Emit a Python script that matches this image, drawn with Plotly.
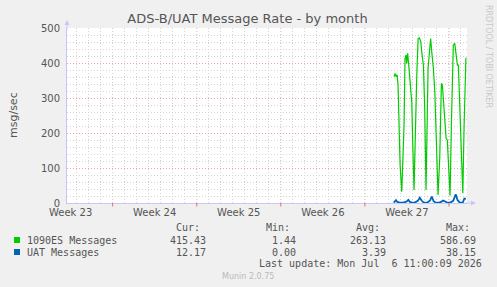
import plotly.graph_objects as go

TITLE = "ADS-B/UAT Message Rate - by month"
Y_TITLE = "msg/sec"
WEEK_LABELS = ["Week 23", "Week 24", "Week 25", "Week 26", "Week 27"]
WEEK_LABEL_POS = [0.3, 7.3, 14.3, 21.3, 28.3]
WEEK_BOUNDS = [3.8, 10.8, 17.8, 24.8, 31.8]
X_RANGE = [0, 33.3]
Y_RANGE = [0, 500]
Y_TICKS = [0, 100, 200, 300, 400, 500]

ES_T = [27.23, 27.31, 27.39, 27.48, 27.56, 27.64, 27.73, 27.87, 28.06, 28.14, 28.23, 28.28,
        28.36, 28.45, 28.56, 28.70, 28.78, 28.89, 29.12, 29.23, 29.33, 29.45, 29.56, 29.67,
        29.78, 29.89, 30.06, 30.27, 30.39, 30.50, 30.62, 30.75, 30.89, 31.03, 31.17, 31.25,
        31.37, 31.45, 31.56, 31.66, 31.78, 31.89, 32.00, 32.16, 32.28, 32.39, 32.50, 32.58,
        32.70, 32.83, 32.95, 33.06, 33.17, 33.21]
ES_V = [361, 370, 361, 366, 337, 223, 109, 32, 223, 413, 423, 399,
        428, 394, 356, 289, 175, 37, 366, 470, 472, 461, 423, 394,
        270, 37, 385, 470, 423, 385, 318, 147, 23, 128, 342, 337,
        280, 213, 185, 180, 80, 21, 223, 451, 456, 423, 394, 394,
        270, 109, 28, 223, 413, 415]

UAT_T = [27.20, 27.30, 27.39, 27.50, 27.70, 28.00, 28.25, 28.42, 28.55, 28.70, 28.95,
         29.20, 29.37, 29.52, 29.70, 30.00, 30.22, 30.37, 30.52, 30.70, 31.00, 31.18,
         31.31, 31.45, 31.62, 31.90, 32.15, 32.36, 32.52, 32.70, 32.95, 33.08, 33.21]
UAT_V = [1, 4, 8, 3, 1, 1, 4, 9, 3, 1, 1,
         6, 15, 7, 1, 1, 7, 18, 5, 1, 1, 4,
         7, 5, 2, 1, 6, 25, 8, 1, 1, 13, 12]

SERIES_NAMES = ["1090ES Messages", "UAT Messages"]
SERIES_COLORS = ["#00CC00", "#0066B3"]
CUR = ["415.43", "12.17"]
MIN = ["1.44", "0.00"]
AVG = ["263.13", "3.39"]
MAX = ["586.69", "38.15"]
LAST_UPDATE = "Last update: Mon Jul  6 11:00:09 2026"
MUNIN = "Munin 2.0.75"
RRD = "RRDTOOL / TOBI OETIKER"

W, H = 497, 287
L, R, T, B = 67, 30, 28, 84
PW, PH = W - L - R, H - T - B


def px(x):
    return (x - L) / PW


def py(y):
    return (H - B - y) / PH


fig = go.Figure()
fig.add_trace(go.Scatter(x=ES_T, y=ES_V, mode="lines", name=SERIES_NAMES[0],
                         line=dict(color=SERIES_COLORS[0], width=1.2)))
fig.add_trace(go.Scatter(x=UAT_T, y=UAT_V, mode="lines", name=SERIES_NAMES[1],
                         line=dict(color=SERIES_COLORS[1], width=1.8)))

shapes = []
for xb in WEEK_BOUNDS:
    shapes.append(dict(type="line", xref="x", yref="paper", x0=xb, x1=xb, y0=0, y1=1,
                       line=dict(color="#F0A0A0", width=1, dash="1px,2px"), layer="below"))
    shapes.append(dict(type="line", xref="x", yref="paper", x0=xb, x1=xb, y0=0, y1=-0.02,
                       line=dict(color="#E07070", width=1), layer="above"))
for i, c in enumerate(SERIES_COLORS):
    yc = [240, 252][i]
    shapes.append(dict(type="rect", xref="paper", yref="paper",
                       x0=px(14), x1=px(20), y0=py(yc + 3), y1=py(yc - 3),
                       fillcolor=c, line=dict(width=0)))

mono = dict(family="DejaVu Sans Mono", size=10, color="#555555")
ann = []


def text(x, y, s, anchor="left", font=None, **kw):
    ann.append(dict(xref="paper", yref="paper", x=px(x), y=py(y), text=s, showarrow=False,
                    xanchor=anchor, yanchor="middle", font=font or mono, borderpad=0, **kw))


text(200.5, 227, "Cur:", "right")
text(290.5, 227, "Min:", "right")
text(380.5, 227, "Avg:", "right")
text(470.5, 227, "Max:", "right")
for i, name in enumerate(SERIES_NAMES):
    yy = [240, 252][i]
    text(26, yy, name, "left")
    text(206.5, yy, CUR[i], "right")
    text(296.5, yy, MIN[i], "right")
    text(386.5, yy, AVG[i], "right")
    text(476.5, yy, MAX[i], "right")
text(482.5, 263.5, LAST_UPDATE, "right")
text(248, 276, MUNIN, "center", font=dict(family="DejaVu Sans", size=8, color="#BBBBBB"))
text(489, 56, RRD, "center", font=dict(family="DejaVu Sans", size=8, color="#C8C8C8"),
     textangle=90)
text(13, 115, Y_TITLE, "center", font=dict(family="DejaVu Sans", size=11, color="#555555"),
     textangle=-90)
# axis arrows
ann.append(dict(xref="paper", yref="paper", x=0, y=py(20), ax=0, ay=12, showarrow=True,
                arrowhead=2, arrowsize=1, arrowwidth=1, arrowcolor="#C8C8F8", text=""))
ann.append(dict(xref="paper", yref="paper", x=px(476), y=0, ax=-12, ay=0, showarrow=True,
                arrowhead=2, arrowsize=1, arrowwidth=1, arrowcolor="#C8C8F8", text=""))

fig.update_layout(
    width=W, height=H,
    margin=dict(l=L, r=R, t=T, b=B),
    paper_bgcolor="#F0F0F0", plot_bgcolor="#FFFFFF",
    showlegend=False,
    title=dict(text=TITLE, x=247.5 / W, xanchor="center", y=1 - 18 / H, yanchor="middle",
               font=dict(family="DejaVu Sans", size=13, color="#555555")),
    shapes=shapes, annotations=ann,
    xaxis=dict(range=X_RANGE, tickmode="array", tickvals=WEEK_LABEL_POS, ticktext=WEEK_LABELS,
               showgrid=False, zeroline=False, showline=True, linecolor="#C8C8F8", linewidth=1,
               ticks="", tickfont=dict(family="DejaVu Sans", size=10, color="#555555"),
               minor=dict(dtick=1, tick0=0.8, showgrid=True, gridcolor="#D4D4D4",
                          griddash="1px,2px", gridwidth=1)),
    yaxis=dict(range=Y_RANGE, tickvals=Y_TICKS, showgrid=True, gridcolor="#F0A0A0",
               griddash="1px,2px", gridwidth=1, zeroline=False, showline=True,
               linecolor="#C8C8F8", linewidth=1, ticks="", ticklabelstandoff=4,
               tickfont=dict(family="DejaVu Sans", size=10, color="#555555"),
               minor=dict(dtick=20, showgrid=True, gridcolor="#D4D4D4",
                          griddash="1px,2px", gridwidth=1)),
)
fig.write_html("out.html")
